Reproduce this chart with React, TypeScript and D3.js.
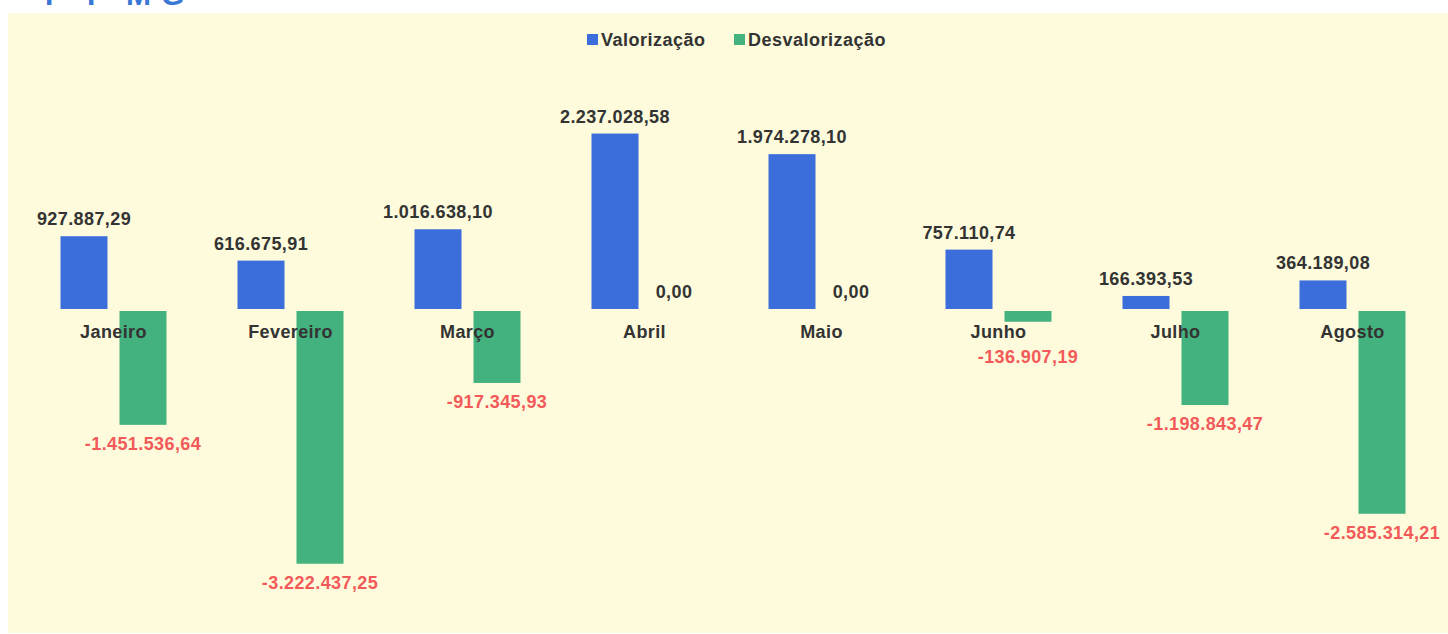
import React from "react";
import * as d3 from "d3";

const categories = ["Janeiro", "Fevereiro", "Março", "Abril", "Maio", "Junho", "Julho", "Agosto"];
const valorizacao = [927887.29, 616675.91, 1016638.1, 2237028.58, 1974278.1, 757110.74, 166393.53, 364189.08];
const desvalorizacao = [-1451536.64, -3222437.25, -917345.93, 0, 0, -136907.19, -1198843.47, -2585314.21];
const seriesNames = ["Valorização", "Desvalorização"];
const titleLetters = ["F", "P", "M", "G"];

const W = 1448;
const H = 634;
const BLUE = "#3b6edb";
const GREEN = "#43b27e";
const RED = "#f25a5a";
const TEXT = "#333333";
const BG = "#fdfbdb";
const FONT = "'Liberation Sans', Arial, sans-serif";

const locale = d3.formatLocale({ decimal: ",", thousands: ".", grouping: [3], currency: ["", ""], minus: "-" });
const fmt = locale.format(",.2f");

export default function App() {
  const zeroY = 309;
  const unitPerPx = 12750;
  const y = d3
    .scaleLinear()
    .domain([-(H - zeroY) * unitPerPx, (zeroY - 13) * unitPerPx])
    .range([H, 13]);
  const x0 = d3.scaleBand<string>().domain(categories).range([25, 1441]).padding(0);
  const x1 = d3.scaleBand<string>().domain(seriesNames).range([0, 106]).paddingInner(12 / 59).paddingOuter(0);
  const groupOffset = (x0.bandwidth() - 106) / 2;
  const bw = x1.bandwidth();

  return (
    <svg width={W} height={H} style={{ position: "absolute", left: 0, top: 0, display: "block" }}>
      <rect x={0} y={0} width={W} height={H} fill="#ffffff" />
      <rect x={8} y={13} width={W - 8} height={H - 14} fill={BG} />
      {titleLetters.map((l, i) => (
        <text key={l} x={[45, 87, 126, 161][i]} y={5} fill="#3a78d6" fontFamily={FONT} fontWeight="bold" fontSize={30}>
          {l}
        </text>
      ))}
      <rect x={8} y={13} width={W - 8} height={10} fill={BG} />

      {/* legend */}
      <g fontFamily={FONT} fontWeight="bold" fontSize={18} fill={TEXT} letterSpacing={0.5}>
        <rect x={587} y={34} width={11} height={11} fill={BLUE} />
        <text x={601} y={46}>{seriesNames[0]}</text>
        <rect x={734} y={34} width={11} height={11} fill={GREEN} />
        <text x={748} y={46}>{seriesNames[1]}</text>
      </g>

      {categories.map((c, i) => {
        const gx = (x0(c) as number) + groupOffset;
        const bx = gx + (x1(seriesNames[0]) as number);
        const dx = gx + (x1(seriesNames[1]) as number);
        const v = valorizacao[i];
        const d = desvalorizacao[i];
        return (
          <g key={c}>
            <rect x={bx} y={y(v)} width={bw} height={y(0) - y(v)} fill={BLUE} />
            {d < 0 && <rect x={dx} y={y(0) + 2} width={bw} height={y(d) - y(0)} fill={GREEN} />}
          </g>
        );
      })}

      <g fontFamily={FONT} fontWeight="bold" fontSize={18} textAnchor="middle" letterSpacing={0.4}>
        {categories.map((c, i) => {
          const gx = (x0(c) as number) + groupOffset;
          const bx = gx + (x1(seriesNames[0]) as number) + bw / 2;
          const dx = gx + (x1(seriesNames[1]) as number) + bw / 2;
          const v = valorizacao[i];
          const d = desvalorizacao[i];
          const cx = (x0(c) as number) + x0.bandwidth() / 2;
          return (
            <g key={c}>
              <text x={cx} y={338} fill={TEXT}>{c}</text>
              <text x={bx} y={y(v) - 11} fill={TEXT}>{fmt(v)}</text>
              {d < 0 ? (
                <text x={dx} y={Math.max(y(d) + 27, 363)} fill={RED}>{fmt(d)}</text>
              ) : (
                <text x={dx} y={y(0) - 11} fill={TEXT}>{fmt(d)}</text>
              )}
            </g>
          );
        })}
      </g>
    </svg>
  );
}
